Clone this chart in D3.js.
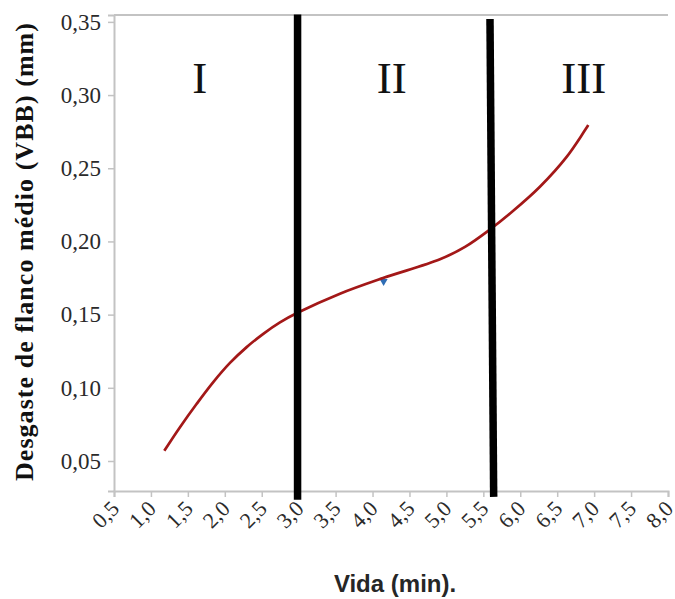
<!DOCTYPE html>
<html><head><meta charset="utf-8">
<script src="https://cdn.jsdelivr.net/npm/d3@7/dist/d3.min.js"></script>
<style>body{margin:0;background:#fff}svg{display:block}</style>
</head><body>
<script>
// Data
const curveX = [1.181, 1.393, 1.620, 1.844, 2.070, 2.296, 2.521, 2.747, 2.991, 3.559, 4.142, 4.913, 5.252, 5.590, 5.901, 6.266, 6.628, 6.921];
const curveY = [0.0570, 0.0731, 0.0891, 0.1039, 0.1170, 0.1278, 0.1369, 0.1447, 0.1514, 0.1643, 0.1750, 0.1878, 0.1963, 0.2082, 0.2208, 0.2374, 0.2578, 0.2795];
const markerX = [4.15];
const markerY = [0.1728];
const dividerTopX = [2.985, 5.59];
const dividerBottomX = [2.985, 5.64];
const dividerTopY = [0.355, 0.352];
const dividerBottomY = [0.0235, 0.0255];
const regionLabels = ["I", "II", "III"];
const regionX = [1.66, 4.26, 6.86];
const regionY = [0.3014, 0.3014, 0.3014];
const xTicks = [0.5,1.0,1.5,2.0,2.5,3.0,3.5,4.0,4.5,5.0,5.5,6.0,6.5,7.0,7.5,8.0];
const yTicks = [0.05,0.10,0.15,0.20,0.25,0.30,0.35];
const xTitle = "Vida (min).";
const yTitle = "Desgaste de flanco médio (VBB) (mm)";

const W = 675, H = 599;
const svg = d3.select("body").append("svg").attr("width", W).attr("height", H);
const x = d3.scaleLinear().domain([0.5, 8.0]).range([114, 668]);
const y = d3.scaleLinear().domain([0.0295, 0.3547]).range([491, 15]);
const fmt = d => d3.format(".2f")(d).replace(".", ",");
const fmtX = d => d3.format(".1f")(d).replace(".", ",");
const axisColor = "#c3c3c3";

// top border
svg.append("line").attr("x1", x(0.5)).attr("x2", x(8.0)).attr("y1", y.range()[1]).attr("y2", y.range()[1])
  .attr("stroke", axisColor).attr("stroke-width", 2);

// Y axis
const ya = svg.append("g").attr("transform", `translate(${x(0.5)},0)`)
  .call(d3.axisLeft(y).tickValues(yTicks).tickFormat(fmt).tickSize(6).tickPadding(7));
ya.select(".domain").attr("stroke", axisColor).attr("stroke-width", 2);
ya.selectAll(".tick line").attr("stroke", axisColor).attr("stroke-width", 1.5);
ya.selectAll(".tick text").attr("font-family", "'Liberation Serif', serif").attr("font-size", 23).attr("fill", "#2a2a2a");

// X axis
const xa = svg.append("g").attr("transform", `translate(0,${y.range()[0]})`)
  .call(d3.axisBottom(x).tickValues(xTicks).tickFormat(fmtX).tickSize(6).tickPadding(4));
xa.select(".domain").attr("stroke", axisColor).attr("stroke-width", 2);
xa.selectAll(".tick line").attr("stroke", axisColor).attr("stroke-width", 1.5);
xa.selectAll(".tick text").attr("font-family", "'Liberation Serif', serif").attr("font-size", 22).attr("fill", "#2a2a2a")
  .attr("text-anchor", "end").attr("dy", "0.7em")
  .attr("transform", "translate(-12,1) rotate(-45)");

// curve
const pts = curveX.map((v, i) => [v, curveY[i]]);
const line = d3.line().x(d => x(d[0])).y(d => y(d[1])).curve(d3.curveCatmullRom.alpha(0.5));
// marker under curve
svg.selectAll(".mk").data(markerX).enter().append("path")
  .attr("d", d3.symbol().type(d3.symbolTriangle).size(28))
  .attr("transform", (d, i) => `translate(${x(d)},${y(markerY[i])}) rotate(180)`)
  .attr("fill", "#2f6db5");
svg.append("path").datum(pts).attr("d", line).attr("fill", "none")
  .attr("stroke", "#a31818").attr("stroke-width", 2.7);

// dividers
svg.selectAll(".div").data(dividerTopX).enter().append("line")
  .attr("x1", d => x(d)).attr("x2", (d, i) => x(dividerBottomX[i]))
  .attr("y1", (d, i) => y(dividerTopY[i])).attr("y2", (d, i) => y(dividerBottomY[i]))
  .attr("stroke", "#000").attr("stroke-width", 7.5);

// region labels
svg.selectAll(".rl").data(regionLabels).enter().append("text")
  .attr("x", (d, i) => x(regionX[i])).attr("y", (d, i) => y(regionY[i]))
  .attr("text-anchor", "middle").attr("font-family", "'Liberation Serif', serif")
  .attr("font-size", 45).attr("fill", "#111").text(d => d);

// titles
svg.append("text").attr("x", 395).attr("y", 592).attr("text-anchor", "middle")
  .attr("font-family", "'Liberation Sans', sans-serif").attr("font-weight", "bold")
  .attr("font-size", 24).attr("fill", "#262626").text(xTitle);
svg.append("text").attr("transform", "translate(33,252) rotate(-90)").attr("text-anchor", "middle")
  .attr("font-family", "'Liberation Serif', serif").attr("font-weight", "bold")
  .attr("font-size", 26).attr("fill", "#111")
  .attr("textLength", 458).attr("lengthAdjust", "spacing").text(yTitle);
</script>
</body></html>
